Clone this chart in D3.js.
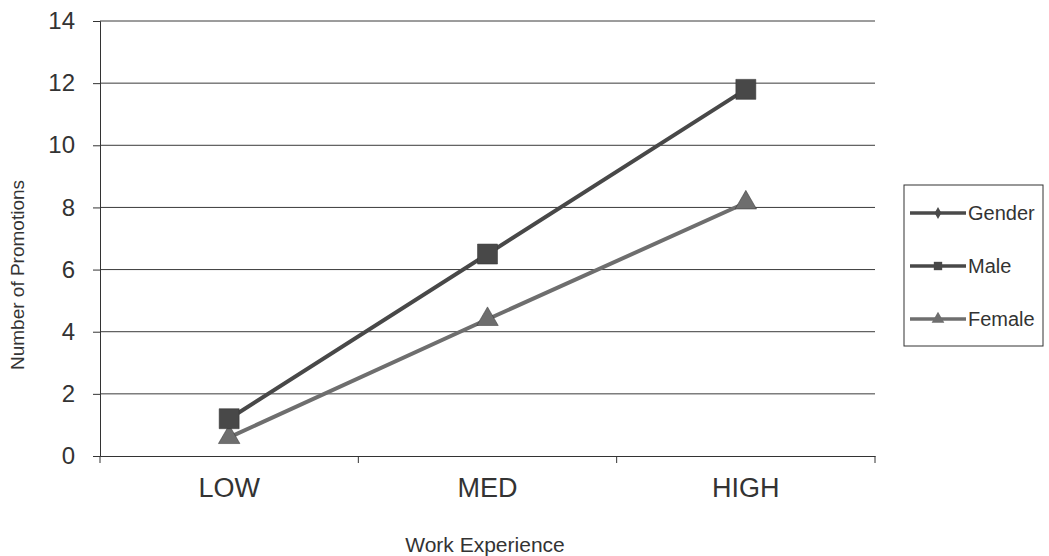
<!DOCTYPE html>
<html>
<head>
<meta charset="utf-8">
<script src="https://cdn.jsdelivr.net/npm/d3@7"></script>
<style>
  body { margin: 0; background: #fff; }
  text { font-family: "Liberation Sans", Arial, sans-serif; fill: #333; }
</style>
</head>
<body>
<svg id="chart" width="1049" height="556"></svg>
<script>
"use strict";

// data
const categories = ["LOW", "MED", "HIGH"];
const maleValues = [1.2, 6.5, 11.8];
const femaleValues = [0.6, 4.4, 8.15];
const yTicks = [0, 2, 4, 6, 8, 10, 12, 14];
const legendNames = ["Gender", "Male", "Female"];

// layout
const plot = { left: 100, right: 875, top: 21, bottom: 456 };

let svg = d3.select("#chart");

// scales
let scaleX = d3.scaleBand()
  .domain(categories)
  .range([plot.left, plot.right]);

let scaleY = d3.scaleLinear()
  .domain([0, 14])
  .range([plot.bottom, plot.top]);

// grid lines
svg.append("g")
  .selectAll("line")
  .data(yTicks.filter(t => t > 0))
  .enter()
  .append("line")
  .attr("x1", plot.left)
  .attr("x2", plot.right)
  .attr("y1", d => scaleY(d))
  .attr("y2", d => scaleY(d))
  .attr("stroke", "#3a3a3a")
  .attr("stroke-width", 1);

// y axis
let yAxis = svg.append("g")
  .attr("transform", `translate(${plot.left}, 0)`)
  .call(d3.axisLeft(scaleY).tickValues(yTicks).tickSize(7).tickPadding(18));
yAxis.selectAll("path, line").attr("stroke", "#333");
yAxis.selectAll("text")
  .style("font-size", "24px")
  .attr("fill", "#333");

// x axis
let xAxis = svg.append("g")
  .attr("transform", `translate(0, ${plot.bottom})`)
  .call(d3.axisBottom(scaleX).tickSize(0).tickPadding(22));
xAxis.select("path").attr("stroke", "#333");
xAxis.selectAll("text")
  .style("font-size", "27px")
  .attr("fill", "#333");
// category boundary ticks
xAxis.selectAll("line.sep")
  .data(d3.range(categories.length + 1))
  .enter()
  .append("line")
  .attr("class", "sep")
  .attr("x1", i => plot.left + i * scaleX.step())
  .attr("x2", i => plot.left + i * scaleX.step())
  .attr("y1", 0)
  .attr("y2", 7)
  .attr("stroke", "#333");

// axis titles
svg.append("text")
  .attr("transform", "translate(24, 275) rotate(-90)")
  .attr("text-anchor", "middle")
  .style("font-size", "19px")
  .text("Number of Promotions");

svg.append("text")
  .attr("x", 485)
  .attr("y", 552)
  .attr("text-anchor", "middle")
  .style("font-size", "21px")
  .text("Work Experience");

// series lines
let cx = c => scaleX(c) + scaleX.bandwidth() / 2;
let line = d3.line()
  .x(d => cx(d.cat))
  .y(d => scaleY(d.v));

const series = [
  { name: "Female", values: femaleValues, color: "#6e6e6e", marker: "triangle" },
  { name: "Male", values: maleValues, color: "#484848", marker: "square" }
];

series.forEach(s => {
  let pts = categories.map((c, i) => ({ cat: c, v: s.values[i] }));
  svg.append("path")
    .datum(pts)
    .attr("d", line)
    .attr("fill", "none")
    .attr("stroke", s.color)
    .attr("stroke-width", 4);
  let sym = s.marker == "square" ? d3.symbolSquare : d3.symbolTriangle;
  svg.append("g")
    .selectAll("path")
    .data(pts)
    .enter()
    .append("path")
    .attr("transform", d => `translate(${cx(d.cat)}, ${scaleY(d.v)})`)
    .attr("d", d3.symbol().type(sym).size(s.marker == "square" ? 400 : 200))
    .attr("fill", s.color)
    .attr("stroke", "#333")
    .attr("stroke-width", 0.5);
});

// legend
let legend = svg.append("g").attr("transform", "translate(904, 185)");
legend.append("rect")
  .attr("width", 139)
  .attr("height", 161)
  .attr("fill", "#fff")
  .attr("stroke", "#333")
  .attr("stroke-width", 1);

const legendColors = ["#4a4a4a", "#484848", "#6e6e6e"];
const legendMarkers = [d3.symbolDiamond, d3.symbolSquare, d3.symbolTriangle];
legendNames.forEach((n, i) => {
  let y = 28 + i * 53;
  let item = legend.append("g").attr("transform", `translate(0, ${y})`);
  item.append("line")
    .attr("x1", 6).attr("x2", 62)
    .attr("stroke", legendColors[i])
    .attr("stroke-width", 3.5);
  item.append("path")
    .attr("transform", "translate(34, 0)")
    .attr("d", d3.symbol().type(legendMarkers[i]).size(i == 0 ? 40 : 70))
    .attr("fill", legendColors[i]);
  item.append("text")
    .attr("x", 64)
    .attr("y", 7)
    .style("font-size", "20px")
    .text(n);
});
</script>
</body>
</html>
